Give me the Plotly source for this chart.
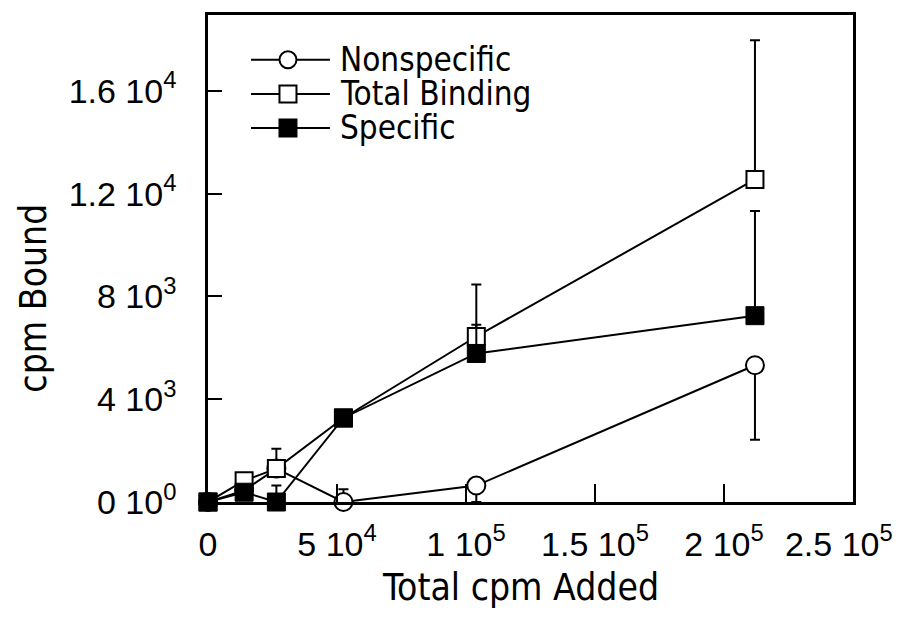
import plotly.graph_objects as go

# ---- data ----
total_added = [0, 14000, 26500, 52500, 104000, 212000]

nonspecific = [0, 450, 1300, 0, 640, 5320]
nonspecific_err_plus = [0, 0, 0, 500, 0, 0]
nonspecific_err_minus = [0, 0, 0, 0, 640, 2900]

total_binding = [0, 830, 1300, 3270, 6440, 12550]
total_err_plus = [0, 0, 770, 0, 2020, 5420]
total_err_minus = [0, 0, 0, 0, 0, 0]

specific = [0, 380, 0, 3270, 5780, 7250]
specific_err_plus = [0, 0, 640, 0, 1120, 4070]
specific_err_minus = [0, 0, 0, 0, 0, 0]

x_tickvals = [0, 50000, 100000, 150000, 200000, 250000]
x_ticktext = ["0", "5 10<sup>4</sup>", "1 10<sup>5</sup>", "1.5 10<sup>5</sup>",
              "2 10<sup>5</sup>", "2.5 10<sup>5</sup>&nbsp;&nbsp;&nbsp;"]
y_tickvals = [0, 4000, 8000, 12000, 16000]
y_ticktext = ["0 10<sup>0</sup>", "4 10<sup>3</sup>", "8 10<sup>3</sup>",
              "1.2 10<sup>4</sup>", "1.6 10<sup>4</sup>"]

legend_names = ["Nonspecific", "Total Binding", "Specific"]

NARROW = "DejaVu Sans Condensed, Liberation Sans Narrow, Liberation Sans, Arial, sans-serif"
REG = "Liberation Sans, Arial, Helvetica, sans-serif"

fig = go.Figure()

def err(plus, minus):
    return dict(type="data", symmetric=False, array=plus, arrayminus=minus,
                color="black", thickness=2, width=5)

fig.add_trace(go.Scatter(
    x=total_added, y=nonspecific, mode="lines+markers", name=legend_names[0],
    line=dict(color="black", width=2),
    marker=dict(symbol="circle", size=18, color="white", line=dict(color="black", width=2)),
    error_y=err(nonspecific_err_plus, nonspecific_err_minus),
    cliponaxis=False, showlegend=False))

fig.add_trace(go.Scatter(
    x=total_added, y=total_binding, mode="lines+markers", name=legend_names[1],
    line=dict(color="black", width=2),
    marker=dict(symbol="square", size=17, color="white", line=dict(color="black", width=2)),
    error_y=err(total_err_plus, total_err_minus),
    cliponaxis=False, showlegend=False))

fig.add_trace(go.Scatter(
    x=total_added, y=specific, mode="lines+markers", name=legend_names[2],
    line=dict(color="black", width=2),
    marker=dict(symbol="square", size=18, color="black", line=dict(color="black", width=1)),
    error_y=err(specific_err_plus, specific_err_minus),
    cliponaxis=False, showlegend=False))

# ---- custom legend (layout geometry in paper coords) ----
row_y = [0.908, 0.838, 0.768]
line_x0, line_x1, mark_x, text_x = 0.0667, 0.189, 0.124, 0.2015
symbols = [("circle", "white"), ("rect", "white"), ("rect", "black")]
shapes = []
annotations = []
for i, name in enumerate(legend_names):
    yv = row_y[i]
    shapes.append(dict(type="line", xref="paper", yref="paper",
                       x0=line_x0, x1=line_x1, y0=yv, y1=yv,
                       line=dict(color="black", width=2)))
    kind, fill = symbols[i]
    shapes.append(dict(type=kind, xref="paper", yref="paper",
                       xsizemode="pixel", ysizemode="pixel",
                       xanchor=mark_x, yanchor=yv,
                       x0=-8.5, x1=8.5, y0=-8.5, y1=8.5,
                       fillcolor=fill, line=dict(color="black", width=2)))
    annotations.append(dict(text=name, xref="paper", yref="paper",
                            x=text_x, y=yv, xanchor="left", yanchor="middle",
                            showarrow=False,
                            font=dict(family=NARROW, size=33, color="black")))

annotations.append(dict(text="Total cpm Added", xref="paper", yref="paper",
                        x=0.485, y=-0.175, xanchor="center", yanchor="middle",
                        showarrow=False, font=dict(family=NARROW, size=37, color="black")))
annotations.append(dict(text="cpm Bound", xref="paper", yref="paper",
                        x=-0.271, y=0.418, xanchor="center", yanchor="middle",
                        textangle=-90, showarrow=False,
                        font=dict(family=NARROW, size=37, color="black")))

# plot area on the page: x 208..868, y 12..502 (page has an 8px body offset)
fig.update_layout(
    width=917, height=632,
    margin=dict(l=200, r=57, t=4, b=138),
    paper_bgcolor="white", plot_bgcolor="white",
    shapes=shapes, annotations=annotations,
    showlegend=False,
)

fig.update_xaxes(
    range=[0, 250000], tickvals=x_tickvals, ticktext=x_ticktext,
    ticks="inside", ticklen=18, tickwidth=2, tickcolor="black",
    showline=True, linecolor="black", linewidth=2.5, mirror=True,
    showgrid=False, zeroline=False,
    tickfont=dict(family=REG, size=34, color="black"),
    ticklabelstandoff=10, ticklabeloverflow="allow",
)
fig.update_yaxes(
    range=[0, 18950], tickvals=y_tickvals, ticktext=y_ticktext,
    ticks="inside", ticklen=14, tickwidth=2, tickcolor="black",
    showline=True, linecolor="black", linewidth=2.5, mirror=True,
    showgrid=False, zeroline=False,
    tickfont=dict(family=REG, size=34, color="black"),
    ticklabelstandoff=22,
)

fig.write_html("out.html")
